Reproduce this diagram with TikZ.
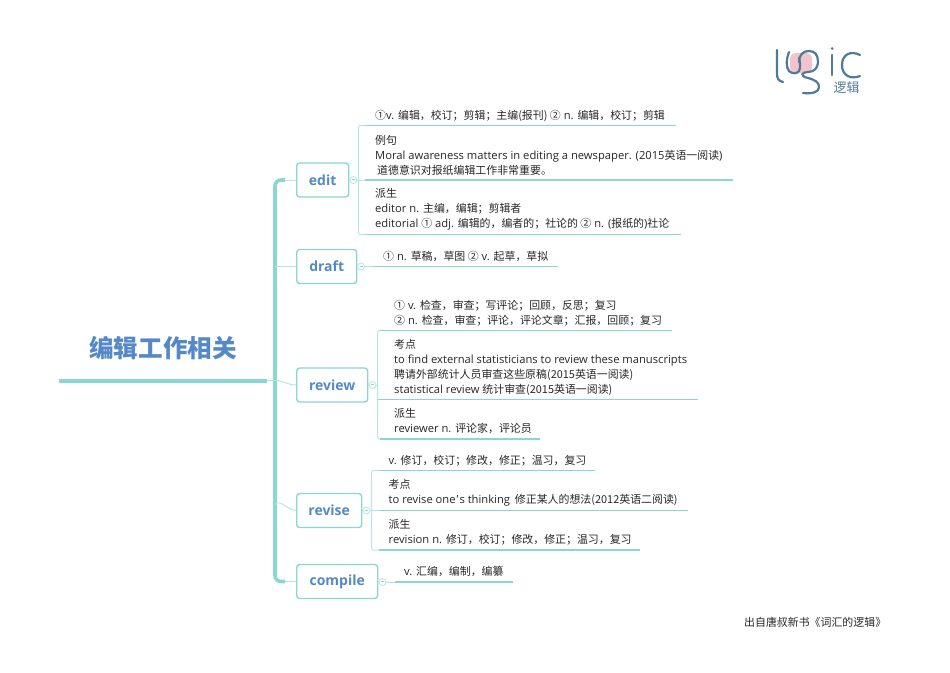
\documentclass[tikz,border=0pt]{standalone}
\usepackage{fontspec}
\setmainfont{Open Sans}
\newfontfamily\cjk[Scale=0.975]{Noto Sans CJK SC}
\newcommand{\zh}[1]{{\cjk #1}}
\usetikzlibrary{arrows.meta,positioning,calc}
\definecolor{teal1}{HTML}{8AD6D0}
\definecolor{teal2}{HTML}{B5E6E2}
\definecolor{blue1}{HTML}{5488C8}
\definecolor{logoblue}{HTML}{4F7A98}
\definecolor{logopink}{HTML}{F4C2CC}
\tikzset{
	wordbox/.style={draw=teal1,line width=1.4pt,rounded corners=3pt,minimum height=34pt,anchor=west,inner sep=0pt,text=blue1,font=\fontsize{14}{16}\selectfont\bfseries},
	dot/.style={circle,draw=teal2,line width=0.8pt,fill=white,minimum size=7pt,inner sep=0pt,text=teal1,font=\fontsize{5}{5}\selectfont},
	leaftext/.style={anchor=west,align=left,inner sep=0pt,yshift=-0.7pt,text=black!85,font=\fontsize{11.2}{15}\selectfont},
	leafline/.style={draw=teal1,line width=1.8pt},
	bracket/.style={draw=teal2,line width=1pt,rounded corners=1.5pt},
	twig/.style={draw=teal2,line width=1pt},
	trunk/.style={draw=teal1,line width=3.6pt,rounded corners=6pt},
	logoline/.style={draw=logoblue,line width=2.2pt,line cap=round},
}
\newcommand{\minus}{\rule[1.2pt]{3pt}{0.6pt}}
\newcommand{\wordtext}[1]{\raisebox{-0.8pt}{#1}}
\begin{document}
\begin{tikzpicture}[x=1pt,y=-1pt]
	\useasboundingbox (0,0) rectangle (950,672);
	% root
	\node[anchor=center,inner sep=0pt,text=blue1,font=\fontsize{25.2}{27}\cjk\bfseries] (root) at (163,348) {编辑工作相关};
	\coordinate (rootl) at (59,380.5);
	\coordinate (rootr) at (267,380.5);
	\draw[draw=teal1,line width=4pt] (rootl) -- (rootr);
	% words
	\node[wordbox,minimum width=52pt] (edit) at (296,180) {\wordtext{edit}};
	\node[wordbox,minimum width=60pt] (draft) at (296,266.5) {\wordtext{draft}};
	\node[wordbox,minimum width=71pt] (review) at (296,385) {\wordtext{review}};
	\node[wordbox,minimum width=65pt] (revise) at (296,510.5) {\wordtext{revise}};
	\node[wordbox,minimum width=81pt] (compile) at (296,581.5) {\wordtext{compile}};
	% trunk
	\coordinate (trunktop) at (275,180);
	\coordinate (trunkbot) at (275,581.5);
	\draw[trunk] (285,180) -- (trunktop) -- (trunkbot) -- (285,581.5);
	\draw[twig] (rootr) -- (trunktop |- rootr);
	\draw[twig] (285,180) -- (edit.west);
	\draw[twig] (275,266.5) -- (draft.west);
	\draw[twig] (275,380.5) to[out=0,in=180] (review.west);
	\draw[twig] (275,505) to[out=60,in=180] (revise.west);
	\draw[twig] (285,581.5) -- (compile.west);
	% edit
	\node[dot] (editdot) at (353.5,180) {\minus};
	\draw[twig] (edit.east) -- (editdot);
	\coordinate (edita) at (675.5,125.5);
	\coordinate (editb) at (732.5,180);
	\coordinate (editc) at (680.5,234.5);
	\draw[twig] (editdot.east) -- (365,180);
	\draw[leafline] (365,125.5) -- (edita);
	\draw[leafline] (365,180) -- (editb);
	\draw[leafline] (365,234.5) -- (editc);
	\draw[bracket] (365,125.5) -- (358.5,125.5) -- (358.5,234.5) -- (365,234.5);
	\node[leaftext] (edit1) at (375,115) {\zh{①}v. \zh{编辑，校订；剪辑；主编(报刊) ②} n. \zh{编辑，校订；剪辑}};
	\node[leaftext] (edit2) at (375,154.5) {\zh{例句}\\Moral awareness matters in editing a newspaper. (2015\zh{英语一阅读})\\\hspace{2pt}\zh{道德意识对报纸编辑工作非常重要。}};
	\node[leaftext] (edit3) at (375,208.5) {\zh{派生}\\editor n. \zh{主编，编辑；剪辑者}\\editorial \zh{①} adj. \zh{编辑的，编者的；社论的 ②} n. (\zh{报纸的})\zh{社论}};
	% draft
	\node[dot] (draftdot) at (361,266.5) {\minus};
	\draw[twig] (draft.east) -- (draftdot);
	\coordinate (drafta) at (558,266.5);
	\draw[twig] (draftdot.east) -- (373,266.5);
	\draw[leafline] (373,266.5) -- (drafta);
	\node[leaftext] (draft1) at (383,256) {\zh{①} n. \zh{草稿，草图 ②} v. \zh{起草，草拟}};
	% review
	\node[dot] (reviewdot) at (372.5,385) {\minus};
	\draw[twig] (review.east) -- (reviewdot);
	\coordinate (reviewa) at (671.5,330.5);
	\coordinate (reviewb) at (697.5,399.5);
	\coordinate (reviewc) at (540,439);
	\draw[leafline] (380,330.5) -- (reviewa);
	\draw[leafline] (377.5,399.5) -- (reviewb);
	\draw[leafline] (380,439) -- (reviewc);
	\draw[bracket] (380,330.5) -- (377.5,330.5) -- (377.5,439) -- (380,439);
	\draw[twig] (reviewdot.east) -- (377.5,385);
	\node[leaftext] (review1) at (394,312.5) {\zh{①} v. \zh{检查，审查；写评论；回顾，反思；复习}\\\zh{②} n. \zh{检查，审查；评论，评论文章；汇报，回顾；复习}};
	\node[leaftext] (review2) at (394,366.5) {\zh{考点}\\to find external statisticians to review these manuscripts\\\zh{聘请外部统计人员审查这些原稿(2015英语一阅读)}\\statistical review \zh{统计审查(2015英语一阅读)}};
	\node[leaftext] (review3) at (394,420.5) {\zh{派生}\\reviewer n. \zh{评论家，评论员}};
	% revise
	\node[dot] (revisedot) at (366.5,510.5) {\minus};
	\draw[twig] (revise.east) -- (revisedot);
	\coordinate (revisea) at (595,470.5);
	\coordinate (reviseb) at (688,510.5);
	\coordinate (revisec) at (640,550);
	\draw[twig] (revisedot.east) -- (379,510.5);
	\draw[leafline] (379,470.5) -- (revisea);
	\draw[leafline] (379,510.5) -- (reviseb);
	\draw[leafline] (379,550) -- (revisec);
	\draw[bracket] (379,470.5) -- (371.5,470.5) -- (371.5,550) -- (379,550);
	\node[leaftext] (revise1) at (388.5,460) {v. \zh{修订，校订；修改，修正；温习，复习}};
	\node[leaftext] (revise2) at (388.5,492) {\zh{考点}\\to revise one\hspace{1pt}\symbol{39}\hspace{1pt}s thinking\hspace{2pt} \zh{修正某人的想法(2012英语二阅读)}};
	\node[leaftext] (revise3) at (388.5,531.5) {\zh{派生}\\revision n. \zh{修订，校订；修改，修正；温习，复习}};
	% compile
	\node[dot] (compiledot) at (382.5,582) {\minus};
	\draw[twig] (compile.east) -- (compiledot);
	\coordinate (compilea) at (513,582);
	\draw[twig] (compiledot.east) -- (395,582);
	\draw[leafline] (395,582) -- (compilea);
	\node[leaftext] (compile1) at (404,571) {v. \zh{汇编，编制，编纂}};
	% footer
	\node[leaftext] (source) at (744,622) {\zh{出自唐叔新书《词汇的逻辑》}};
	% logo
	\fill[logopink,rounded corners=6pt] (790,53) -- (812,53) -- (812,73) -- (790,73) -- cycle;
	\draw[logoline] (777,50) -- (777,74) .. controls (777,79) and (779,81) .. (783,82);
	\draw[logoline] (789,52) .. controls (786,60) and (786,67) .. (789,71) .. controls (792,74) and (797,74) .. (799,71) .. controls (801,67) and (800,62) .. (799,58);
	\draw[logoline] (799,62) .. controls (799,55) and (803,51) .. (809,51) .. controls (815,51) and (818,55) .. (818,62) .. controls (818,68) and (814,72) .. (808,72) .. controls (802,72) and (799,76) .. (808,78) .. controls (815,80) and (819,82) .. (819,87) .. controls (819,92) and (813,94) .. (803,93);
	\draw[logoline] (832,55) -- (832,75);
	\fill[logoblue] (832,48.5) circle (1.5pt);
	\draw[logoline] (860,55) .. controls (850,50) and (842,55) .. (842,65) .. controls (842,75) and (850,80) .. (860,76);
	\node[anchor=center,inner sep=0pt,text=logoblue,font=\fontsize{13.3}{15}\cjk] (logotext) at (846.5,87.5) {逻辑};
\end{tikzpicture}
\end{document}
